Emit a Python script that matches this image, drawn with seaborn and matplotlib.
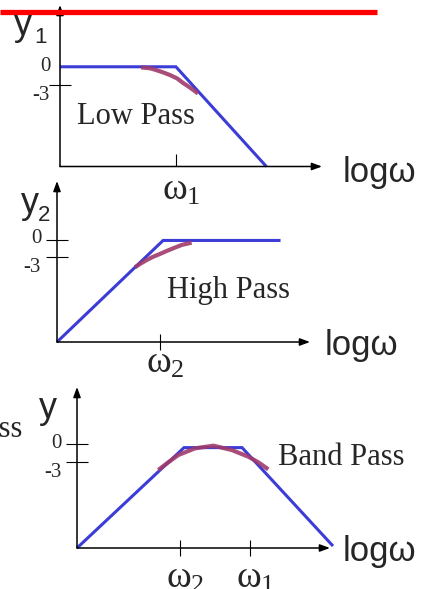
import matplotlib
matplotlib.use("Agg")
import matplotlib.pyplot as plt
import matplotlib.transforms as mtransforms
from matplotlib.lines import Line2D
import seaborn as sns

# ---- data: log-frequency (decades) vs gain (dB) ----
# Low pass: asymptotes and actual response
lp_asym_x = [0.0, 1.0, 1.78]
lp_asym_y = [0.0, 0.0, -16.3]
lp_real_x = [0.70, 0.78, 0.83, 0.89, 0.95, 1.01, 1.06, 1.12, 1.19]
lp_real_y = [-0.10, -0.26, -0.54, -0.92, -1.36, -1.90, -2.62, -3.38, -4.36]

# High pass
hp_asym_x = [0.0, 1.03, 2.17]
hp_asym_y = [-18.45, 0.0, 0.0]
hp_real_x = [0.757, 0.806, 0.871, 0.935, 1.0, 1.065, 1.129, 1.210, 1.307]
hp_real_y = [-4.87, -4.27, -3.55, -2.95, -2.45, -1.91, -1.42, -0.82, -0.40]

# Band pass
bp_asym_x = [0.0, 1.039, 1.602, 2.485]
bp_asym_y = [-17.33, -0.6, -0.6, -17.0]
bp_real_x = [0.789, 0.886, 0.984, 1.146, 1.324, 1.502, 1.663, 1.760, 1.857]
bp_real_y = [-4.33, -3.05, -1.83, -0.72, -0.28, -1.00, -2.11, -3.05, -4.22]

# corner frequencies (decades) and marked gain levels (dB)
lp_corner = [1.0]
hp_corner = [1.0]
bp_corners = [1.0, 1.68]
gain_levels = [0, -3]

BLUE = "#3c3cd6"
PURPLE = "#a03a6c"
SERIF = "Liberation Serif"
SANS = "Liberation Sans"

W, H = 421, 589
sns.set_style("white")

fig = plt.figure(figsize=(W / 100, H / 100), dpi=100)
fig.patch.set_facecolor("white")
# figure pixel coordinates, origin at the top-left corner
px = mtransforms.Affine2D().scale(1 / W, -1 / H).translate(0, 1) + fig.transFigure


def make_panel(box, xlim, ylim):
    left, top, right, bottom = box
    ax = fig.add_axes([left / W, 1 - bottom / H, (right - left) / W, (bottom - top) / H])
    ax.patch.set_alpha(0)
    for s in ax.spines.values():
        s.set_visible(False)
    arrow = dict(arrowstyle="-|>,head_length=0.6,head_width=0.22", color="black",
                 lw=1.1, shrinkA=0, shrinkB=0, mutation_scale=10)
    ax.annotate("", xy=(1, 0), xytext=(0, 0), xycoords="axes fraction", arrowprops=arrow)
    ax.annotate("", xy=(0, 1), xytext=(0, 0), xycoords="axes fraction", arrowprops=arrow)
    ax.set_xlim(*xlim)
    ax.set_ylim(*ylim)
    return ax


def draw_curves(ax, ax_x, ax_y, re_x, re_y):
    sns.lineplot(x=ax_x, y=ax_y, ax=ax, color=BLUE, lw=2.2, sort=False,
                 clip_on=False, solid_capstyle="butt", solid_joinstyle="miter")
    sns.lineplot(x=re_x, y=re_y, ax=ax, color=PURPLE, lw=3.0, sort=False,
                 clip_on=False, solid_capstyle="butt", alpha=0.9)
    ax.set_xlabel("")
    ax.set_ylabel("")


def setup_ticks(ax, xt, yt, xdir, xlen):
    ax.set_xticks(xt)
    ax.set_yticks(yt)
    ax.tick_params(axis="x", direction=xdir, length=xlen, width=0.8, color="black",
                   labelbottom=False, bottom=True)
    ax.tick_params(axis="y", direction="inout", length=16, width=0.8, color="black",
                   labelleft=False, left=True)


def gain_label(ax, value, dx, dy):
    ax.annotate(f"{value}", xy=(0, value), xytext=(dx, dy), textcoords="offset pixels",
                ha="right", va="baseline", fontsize=15, family=SERIF)


def freq_label(ax, x, sub, dy):
    ax.annotate(r"$\mathregular{ω_{%s}}$" % sub, xy=(x, ax.get_ylim()[0]),
                xytext=(-14, dy), textcoords="offset pixels",
                ha="left", va="baseline", fontsize=27, family=SERIF)


# ---- low pass ----
ax1 = make_panel((60, 5, 322, 166.5), (0, 2.26), (-16.3, 10.1))
draw_curves(ax1, lp_asym_x, lp_asym_y, lp_real_x, lp_real_y)
setup_ticks(ax1, lp_corner, [gain_levels[1]], "in", 9)
ax1.set_xlim(0, 2.26)
ax1.set_ylim(-16.3, 10.1)
gain_label(ax1, 0, -9, -4)
gain_label(ax1, -3, -10, -15)
freq_label(ax1, lp_corner[0], "1", -33)

# ---- high pass ----
ax2 = make_panel((57, 181, 310, 342), (0, 2.456), (-18.45, 10.8))
draw_curves(ax2, hp_asym_x, hp_asym_y, hp_real_x, hp_real_y)
setup_ticks(ax2, hp_corner, gain_levels, "inout", 12)
ax2.set_xlim(0, 2.456)
ax2.set_ylim(-18.45, 10.8)
gain_label(ax2, 0, -15, -3)
gain_label(ax2, -3, -16, -15)
freq_label(ax2, hp_corner[0], "2", -31)

# ---- band pass ----
ax3 = make_panel((77, 387, 330, 548), (0, 2.456), (-17.33, 9.5))
draw_curves(ax3, bp_asym_x, bp_asym_y, bp_real_x, bp_real_y)
setup_ticks(ax3, bp_corners, gain_levels, "inout", 12)
ax3.set_xlim(0, 2.456)
ax3.set_ylim(-17.33, 9.5)
gain_label(ax3, 0, -15, -4)
gain_label(ax3, -3, -15, -15)
freq_label(ax3, bp_corners[0], "2", -40)
freq_label(ax3, bp_corners[1], "1", -40)

# ---- axis names and captions ----
def ptext(x, y, s, size, family, ha="left"):
    fig.text(x, y, s, transform=px, fontsize=size, family=family, ha=ha, va="baseline")

ptext(14, 35, "y", 26, SANS)
ptext(34, 43, "1", 16, SANS)
ptext(21, 213, "y", 26, SANS)
ptext(38, 221, "2", 16, SANS)
ptext(39, 418, "y", 26, SANS)

ptext(343, 182, "logω", 25, SANS)
ptext(325, 355, "logω", 25, SANS)
ptext(343, 561, "logω", 25, SANS)

ptext(77, 124, "Low Pass", 22, SERIF)
ptext(166.7, 298, "High Pass", 22, SERIF)
ptext(278, 465, "Band Pass", 22, SERIF)
ptext(22, 437, "Pass", 22, SERIF, ha="right")

# title rule
fig.add_artist(Line2D([0, 377], [12, 12], transform=px, color="#ff0000", lw=3.8,
                      solid_capstyle="butt"))

fig.savefig("out.png", dpi=100)
